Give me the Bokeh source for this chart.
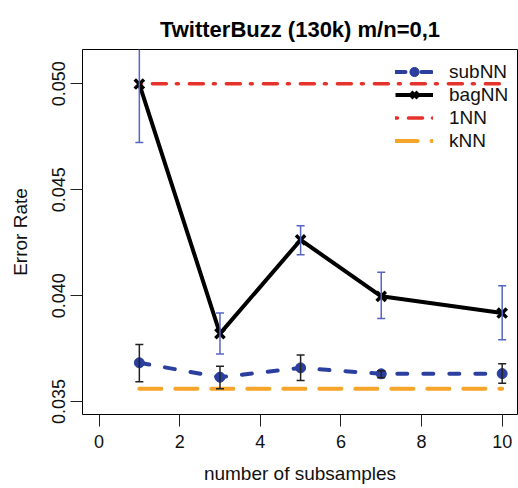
from bokeh.plotting import figure
from bokeh.models import Range1d, FixedTicker, Legend, LegendItem, NumeralTickFormatter
from bokeh.embed import file_html
from bokeh.resources import INLINE

# ---- data ----
subsamples = [1, 3, 5, 7, 10]
subnn = [0.03683, 0.03615, 0.03659, 0.03631, 0.03632]
subnn_lo = [0.03594, 0.03560, 0.03599, 0.03613, 0.03586]
subnn_hi = [0.03770, 0.03667, 0.03720, 0.03645, 0.03678]
bagnn = [0.04999, 0.03821, 0.04263, 0.03997, 0.03918]
bagnn_lo = [0.04723, 0.03725, 0.04193, 0.03892, 0.03792]
bagnn_hi = [0.05277, 0.03918, 0.04330, 0.04110, 0.04047]
ref_x = [1, 10]
one_nn = [0.0500, 0.0500]
k_nn = [0.0356, 0.0356]
x_ticks = [0, 2, 4, 6, 8, 10]
y_ticks = [0.035, 0.040, 0.045, 0.050]
x_title = "number of subsamples"
y_title = "Error Rate"

FONT = "Liberation Sans"
BLUE = "#2b3f9e"
EBLUE = "#5466c2"
RED = "#e5322b"
ORANGE = "#f5a52a"

p = figure(width=518, height=488, output_backend="svg", toolbar_location=None,
           x_range=Range1d(-0.41, 10.38), y_range=Range1d(0.03439, 0.05162),
           min_border_left=82, min_border_right=1, min_border_top=49, min_border_bottom=74,
           title="TwitterBuzz (130k) m/n=0,1")

p.background_fill_color = "white"
p.border_fill_color = "white"
p.outline_line_color = "black"
p.outline_line_width = 1
p.xgrid.visible = False
p.ygrid.visible = False

p.title.text_font = FONT
p.title.text_font_size = "22px"
p.title.text_font_style = "bold"
p.title.align = "center"
p.title.text_color = "black"
p.title.standoff = 15

for ax in (p.xaxis[0], p.yaxis[0]):
    ax.axis_line_color = None
    ax.major_tick_out = 12
    ax.major_tick_in = 0
    ax.minor_tick_out = 0
    ax.minor_tick_in = 0
    ax.major_tick_line_color = "#222222"
    ax.major_label_text_font = FONT
    ax.major_label_text_font_size = "18px"
    ax.major_label_text_color = "#111111"
    ax.axis_label_text_font = FONT
    ax.axis_label_text_font_size = "19px"
    ax.axis_label_text_font_style = "normal"
    ax.axis_label_text_color = "#111111"

p.xaxis.ticker = FixedTicker(ticks=x_ticks)
p.yaxis.ticker = FixedTicker(ticks=y_ticks)
p.yaxis.formatter = NumeralTickFormatter(format="0.000")
p.yaxis.major_label_orientation = "vertical"
p.xaxis.axis_label = x_title
p.yaxis.axis_label = y_title
p.xaxis.major_label_standoff = 8
p.yaxis.major_label_standoff = 5
p.xaxis.axis_label_standoff = 12
p.yaxis.axis_label_standoff = 19

# reference lines
r_1nn = p.line(ref_x, one_nn, line_color=RED, line_width=3.5, line_dash="2 11 14 10", line_cap="round")
r_knn = p.line(ref_x, k_nn, line_color=ORANGE, line_width=4, line_dash="22 14", line_cap="round")

# subNN
r_sub_line = p.line(subsamples, subnn, line_color=BLUE, line_width=4, line_dash="10 16", line_cap="round")
r_sub_pts = p.scatter(subsamples, subnn, marker="circle", size=10, fill_color=BLUE, line_color=BLUE)

# bagNN
r_bag_line = p.line(subsamples, bagnn, line_color="black", line_width=4)
r_bag_pts = p.scatter(subsamples, bagnn, marker="x", size=13, line_color="black", line_width=3.5)

# error bars
p.segment(x0=subsamples, y0=subnn_lo, x1=subsamples, y1=subnn_hi, line_color="#222222", line_width=1.5)
p.scatter(subsamples, subnn_lo, marker="dash", size=8, line_color="#222222", line_width=1.5)
p.scatter(subsamples, subnn_hi, marker="dash", size=8, line_color="#222222", line_width=1.5)
p.segment(x0=subsamples, y0=bagnn_lo, x1=subsamples, y1=bagnn_hi, line_color=EBLUE, line_width=1.5)
p.scatter(subsamples, bagnn_lo, marker="dash", size=8, line_color=EBLUE, line_width=1.5)
p.scatter(subsamples, bagnn_hi, marker="dash", size=8, line_color=EBLUE, line_width=1.5)

legend = Legend(items=[
    LegendItem(label="subNN", renderers=[r_sub_line, r_sub_pts]),
    LegendItem(label="bagNN", renderers=[r_bag_line, r_bag_pts]),
    LegendItem(label="1NN", renderers=[r_1nn]),
    LegendItem(label="kNN", renderers=[r_knn]),
], location=(313, 262))
legend.border_line_color = None
legend.background_fill_alpha = 0
legend.padding = 0
legend.margin = 0
legend.spacing = 0
legend.glyph_width = 38
legend.glyph_height = 23
legend.label_height = 23
legend.label_standoff = 16
legend.label_text_font = FONT
legend.label_text_font_size = "19px"
legend.label_text_color = "#111111"
p.add_layout(legend, "center")

open("out.html", "w").write(file_html(p, INLINE))
